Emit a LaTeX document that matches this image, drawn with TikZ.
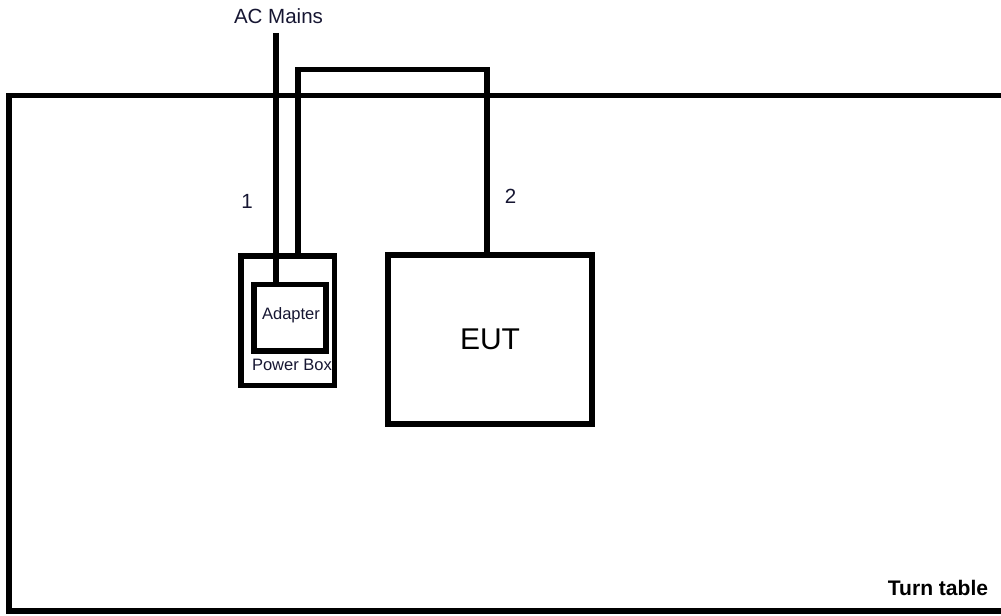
\documentclass[tikz,border=0pt]{standalone}
\usepackage{fontspec}
\setmainfont{Liberation Sans}
\usetikzlibrary{positioning}
\definecolor{labelnavy}{RGB}{22,22,50}

\begin{document}
\begin{tikzpicture}[
    x=0.75pt, y=-0.75pt,
    box/.style={draw, line width=4.3pt, inner sep=0pt},
    cable/.style={line width=4.3pt},
    lbl/.style={inner sep=0pt, anchor=base, text=labelnavy,
                font=\fontsize{15.4pt}{18pt}\selectfont},
    small/.style={font=\fontsize{12.4pt}{14pt}\selectfont}
]
\useasboundingbox (0,0) rectangle (1001,616);
\clip (0,0) rectangle (1001,616);
% turn table runs off the right edge
\node[box, minimum width=752.25pt, minimum height=386.6pt] (table) at (510.5,353.25) {};
\node[box, minimum width=70.1pt, minimum height=97.1pt] (pbox) at (287.75,320.75) {};
\node[box, minimum width=54pt, minimum height=49.9pt] (adapter) at (290,317.75) {};
\node[box, minimum width=153pt, minimum height=126.75pt,
      font=\fontsize{22.5pt}{26pt}\selectfont] (eut) at (490,339.5) {EUT};
\node[lbl] (mainslbl) at (278.5,23.3) {AC Mains};
\node[lbl, small] (adapterlbl) at (291,319.5) {Adapter};
\node[lbl, small] (pboxlbl) at (292,370.7) {Power Box};
\node[lbl] (one) at (247,209) {1};
\node[lbl] (two) at (510.5,204) {2};
\node[lbl, text=black, font=\bfseries\fontsize{15.8pt}{18pt}\selectfont] (tablelbl) at (938,596) {Turn table};
% cables
\coordinate (mains) at (276,33);
\coordinate (loopl) at (298,69.5);
\coordinate (loopr) at (486.7,69.5);
\draw[cable] (mains) -- (mains |- adapter.north);
\draw[cable] (loopl |- pbox.north) -- (loopl) -- (loopr) -- (loopr |- eut.north);
\end{tikzpicture}
\end{document}
